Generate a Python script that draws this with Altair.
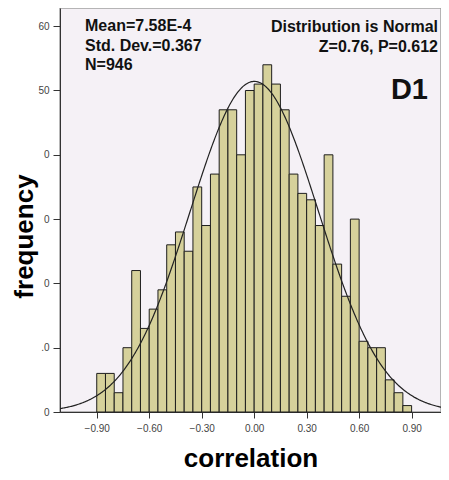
import altair as alt
import pandas as pd

# ---- data ----
bin_start = [-0.90, -0.85, -0.80, -0.75, -0.70, -0.65, -0.60, -0.55, -0.50, -0.45,
             -0.40, -0.35, -0.30, -0.25, -0.20, -0.15, -0.10, -0.05, 0.00, 0.05,
             0.10, 0.15, 0.20, 0.25, 0.30, 0.35, 0.40, 0.45, 0.50, 0.55,
             0.60, 0.65, 0.70, 0.75, 0.80, 0.85]
bin_end = [-0.85, -0.80, -0.75, -0.70, -0.65, -0.60, -0.55, -0.50, -0.45, -0.40,
           -0.35, -0.30, -0.25, -0.20, -0.15, -0.10, -0.05, 0.00, 0.05, 0.10,
           0.15, 0.20, 0.25, 0.30, 0.35, 0.40, 0.45, 0.50, 0.55, 0.60,
           0.65, 0.70, 0.75, 0.80, 0.85, 0.90]
counts = [6, 6, 3, 10, 22, 13, 16, 19, 26, 28,
          25, 35, 29, 37, 47, 47, 40, 50, 51, 54,
          51, 47, 37, 34, 33, 29, 40, 23, 18, 30,
          11, 10, 10, 5, 3, 1]

mean_val = 7.58e-4
sd_val = 0.367
n_val = 946
bin_width = 0.05

x_ticks = [-0.90, -0.60, -0.30, 0.00, 0.30, 0.60, 0.90]
y_ticks = [0, 10, 20, 30, 40, 50, 60]
y_tick_text = ["0", ".0", "0", "0", "0", "50", "60"]

stats_left = ["Mean=7.58E-4", "Std. Dev.=0.367", "N=946"]
stats_right = ["Distribution is Normal", "Z=0.76, P=0.612"]
panel_label = "D1"

FONT = "Liberation Sans"

df = pd.DataFrame({"start": bin_start, "end": bin_end, "count": counts})

x_scale = alt.Scale(domain=[-1.11, 1.068], nice=False, zero=False)
y_scale = alt.Scale(domain=[0, 62.83], nice=False)

label_expr = " : ".join(
    f"datum.value == {v} ? '{t}'" for v, t in zip(y_ticks, y_tick_text)
) + " : ''"

x_axis = alt.Axis(
    values=x_ticks, format=".2f", grid=False,
    labelFont=FONT, labelFontSize=10, labelColor="#444444", labelPadding=5,
    tickColor="#333333", tickSize=6, domainColor="#333333",
    title="correlation", titleFont=FONT, titleFontSize=26, titleFontWeight="bold",
    titleColor="#000000", titleY=54, titleBaseline="alphabetic",
)
y_axis = alt.Axis(
    values=y_ticks, labelExpr=label_expr, grid=False,
    labelFont=FONT, labelFontSize=10, labelColor="#444444", labelPadding=4,
    tickColor="#333333", tickSize=7, domainColor="#333333",
    title="frequency", titleFont=FONT, titleFontSize=26, titleFontWeight="bold",
    titleColor="#000000", titleX=-28, titleY=228, titleBaseline="alphabetic",
    titleAngle=270, titleAlign="center",
)

bars = alt.Chart(df).mark_bar(
    fill="#d6d19b", stroke="#1e1e1e", strokeWidth=1
).encode(
    x=alt.X("start:Q", scale=x_scale, axis=x_axis),
    x2="end:Q",
    y=alt.Y("count:Q", scale=y_scale, axis=y_axis),
    y2=alt.datum(0),
)

curve = alt.Chart(
    alt.sequence(-1.11, 1.1001, 0.005, as_="xv")
).transform_calculate(
    dens=f"{n_val}*{bin_width}/({sd_val}*sqrt(2*PI))*exp(-0.5*pow((datum.xv-{mean_val})/{sd_val},2))"
).mark_line(color="#222222", strokeWidth=1.2, clip=True).encode(
    x=alt.X("xv:Q", scale=x_scale),
    y=alt.Y("dens:Q", scale=y_scale),
)


def label(text, x, y, size, align="left"):
    return alt.Chart(pd.DataFrame({"t": [text]})).mark_text(
        font=FONT, fontSize=size, fontWeight="bold", color="#111111",
        align=align, baseline="alphabetic",
    ).encode(text="t:N", x=alt.value(x), y=alt.value(y))


texts = [
    label(stats_left[0], 25, 23, 16),
    label(stats_left[1], 25, 42.5, 16),
    label(stats_left[2], 25, 61.5, 16),
    label(stats_right[0], 378, 23.5, 16, "right"),
    label(stats_right[1], 378, 44, 16, "right"),
    label(panel_label, 368, 91, 29, "right"),
]

chart = alt.layer(bars, curve, *texts).properties(
    width=381, height=404,
    autosize=alt.AutoSizeParams(type="none"),
    padding={"left": 52, "top": 0, "right": 0, "bottom": 60},
    background="#ffffff",
).configure_view(
    fill="#f5f1f6", stroke="#a0a0a0", strokeWidth=1.5,
)

chart.save("out.html", embed_options={"renderer": "svg", "actions": False})
